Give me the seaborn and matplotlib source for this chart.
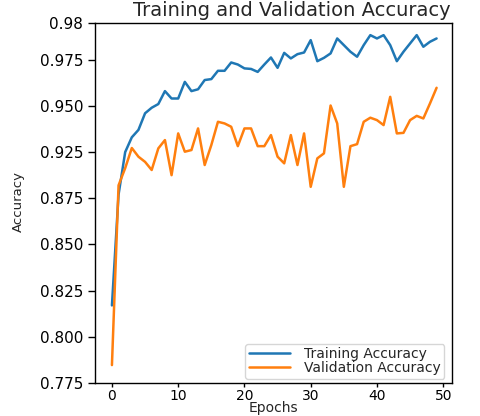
import numpy as np
import pandas as pd
import matplotlib
matplotlib.use("Agg")
import matplotlib.pyplot as plt
import seaborn as sns

epochs = list(range(50))
training_accuracy = [
    0.817, 0.877, 0.900, 0.908, 0.912, 0.921, 0.924, 0.926, 0.933, 0.929,
    0.929, 0.938, 0.933, 0.934, 0.939, 0.9395, 0.944, 0.944, 0.9485, 0.9474,
    0.9453, 0.945, 0.9434, 0.9474, 0.9512, 0.9456, 0.9537, 0.9507, 0.953, 0.9539,
    0.9606, 0.9492, 0.951, 0.9534, 0.9615, 0.9579, 0.9543, 0.9516, 0.9579, 0.9633,
    0.9615, 0.9633, 0.9579, 0.9492, 0.9543, 0.9588, 0.9633, 0.957, 0.9597, 0.9615,
]
validation_accuracy = [
    0.7847, 0.882, 0.8913, 0.9022, 0.8975, 0.8947, 0.8903, 0.902, 0.9065, 0.8875,
    0.9101, 0.9002, 0.9011, 0.9128, 0.893, 0.9038, 0.9164, 0.9155, 0.9137, 0.9032,
    0.9128, 0.9128, 0.9032, 0.9032, 0.9092, 0.8975, 0.8939, 0.9092, 0.893, 0.9101,
    0.8812, 0.8966, 0.8993, 0.9252, 0.9155, 0.8812, 0.9032, 0.9043, 0.9164, 0.9186,
    0.9173, 0.9146, 0.9299, 0.9101, 0.9104, 0.9173, 0.9196, 0.9182, 0.9263, 0.9348,
]
series_names = ["Training Accuracy", "Validation Accuracy"]
series_colors = ["#1f77b4", "#ff7f0e"]
ytick_values = [0.775, 0.800, 0.825, 0.850, 0.875, 0.900, 0.925, 0.950, 0.970]
ytick_labels = ["0.775", "0.800", "0.825", "0.850", "0.875", "0.925", "0.950", "0.975", "0.98"]
xtick_values = [0, 10, 20, 30, 40, 50]

df = pd.DataFrame({
    "Epochs": epochs * 2,
    "Accuracy": training_accuracy + validation_accuracy,
    "Series": [series_names[0]] * 50 + [series_names[1]] * 50,
})

sns.set_style("ticks")
plt.rcParams['font.family'] = ['DejaVu Sans']
plt.rcParams['axes.edgecolor'] = 'black'

fig = plt.figure(figsize=(4.8, 4.16), dpi=100)
ax = fig.add_axes([0.198, 0.0793, 0.744, 0.866])
sns.lineplot(data=df, x="Epochs", y="Accuracy", hue="Series",
             palette=series_colors, linewidth=1.8, ax=ax)

ax.set_xlim(-2.55, 51.35)
ax.set_ylim(0.775, 0.970)
ax.set_xticks(xtick_values)
ax.set_yticks(ytick_values)
ax.set_yticklabels(ytick_labels)
ax.tick_params(axis='y', labelsize=11, length=5, width=1, pad=3.5, colors='black')
ax.tick_params(axis='x', labelsize=10, length=3, width=1, pad=1.5, colors='black')
ax.set_title("Training and Validation Accuracy", fontsize=14, pad=4.8, x=0.552)
ax.set_xlabel("Epochs", fontsize=10)
ax.xaxis.set_label_coords(0.5, -0.05)
ax.set_ylabel("Accuracy", fontsize=9.5)
ax.yaxis.set_label_coords(-0.196, 0.505)
for s in ax.spines.values():
    s.set_visible(True)
    s.set_linewidth(1.0)
leg = ax.legend(loc="lower right", bbox_to_anchor=(0.978, 0.012), borderaxespad=0,
                fontsize=10, frameon=True, handlelength=3.0, handletextpad=1.0,
                labelspacing=0.0, borderpad=0.25)
leg.set_title(None)

fig.savefig("out.png", dpi=100)
